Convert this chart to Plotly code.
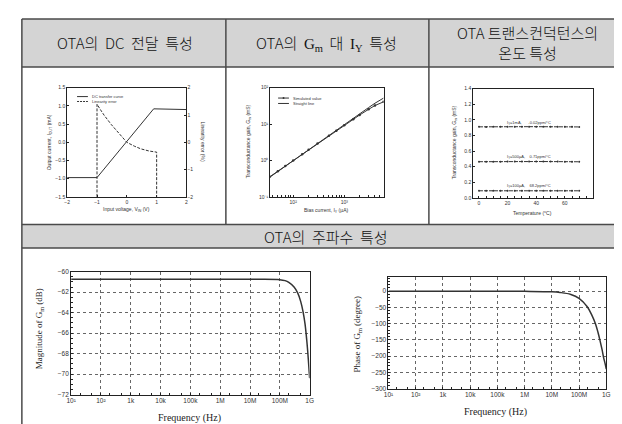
import plotly.graph_objects as go

W, H = 622, 424


def px(x):
    return x / W


def py(y):
    return 1 - y / H


# ---------------- data ----------------
# DC transfer characteristic
vin_transfer = [-2.0, -1.0, 0.9, 1.55, 1.6, 2.0]
iout_transfer = [-0.97, -0.97, 0.92, 0.92, 0.90, 0.90]
vin_error = [-1.0, -1.0, -0.9, -0.76, -0.52, -0.25, 0.0, 0.25, 0.47, 0.75, 0.91, 1.0, 1.0]
lin_error = [-2.0, 1.4, 1.22, 0.99, 0.65, 0.3, 0.0, -0.14, -0.24, -0.32, -0.36, -0.36, -2.0]

# Gm vs bias current
iy_bias = [35, 50, 70, 100, 150, 200, 300, 500, 700, 1000, 1500, 2000, 3000, 4000, 5900]
gm_sim = [0.36, 0.51, 0.71, 1.0, 1.49, 1.97, 2.93, 4.8, 6.6, 9.3, 13.6, 17.8, 25.5, 32.5, 41.0]
gm_line = [0.35, 0.5, 0.7, 1.0, 1.5, 2.0, 3.0, 5.0, 7.0, 9.9, 14.6, 19.3, 28.5, 37.5, 52.0]

# Gm vs temperature
temp_c = [0, 5, 10, 15, 20, 25, 30, 35, 40, 45, 50, 55, 60, 65, 70]
gm_1ma = [0.911, 0.910, 0.911, 0.911, 0.912, 0.912, 0.912, 0.913, 0.913, 0.912, 0.912, 0.912, 0.911, 0.911, 0.910]
gm_500ua = [0.464, 0.463, 0.464, 0.464, 0.465, 0.465, 0.466, 0.466, 0.466, 0.466, 0.465, 0.465, 0.464, 0.464, 0.463]
gm_100ua = [0.091, 0.091, 0.091, 0.091, 0.092, 0.092, 0.092, 0.092, 0.092, 0.092, 0.092, 0.092, 0.091, 0.091, 0.091]
temp_labels = ["I<sub>Y</sub>=1mA,      -0.02ppm/°C",
               "I<sub>Y</sub>=500µA,    0.71ppm/°C",
               "I<sub>Y</sub>=100µA,    68.2ppm/°C"]

# Frequency response
freq_mag = [1e1, 1e2, 1e3, 1e4, 1e5, 1e6, 1e7, 1e8, 1.5e8, 2e8, 3e8, 4e8, 5e8, 6e8, 7e8, 8e8, 9e8, 1e9]
mag_db = [-60.75, -60.75, -60.75, -60.75, -60.75, -60.75, -60.75, -60.78, -60.88, -61.05,
          -61.5, -62.1, -62.9, -63.9, -65.1, -66.7, -68.5, -70.4]
freq_phase = [1e1, 1e2, 1e3, 1e4, 1e5, 1e6, 1e7, 2e7, 5e7, 1e8, 2e8, 3e8, 4e8, 5e8, 6e8, 7e8, 8e8, 9e8, 1e9]
phase_deg = [0, 0, 0, 0, 0, -0.5, -2, -4, -10, -22, -48, -75, -100, -128, -155, -180, -205, -222, -240]

freq_tickvals = [1e1, 1e2, 1e3, 1e4, 1e5, 1e6, 1e7, 1e8, 1e9]
freq_ticktext = ["10¹", "10²", "1k", "10k", "100k", "1M", "10M", "100M", "1G"]

LINE = "#333333"
SANS = "Liberation Sans"
SERIF = "Liberation Serif"
KR = "Noto Sans CJK KR"

fig = go.Figure()

# chart 1
fig.add_trace(go.Scatter(x=vin_transfer, y=iout_transfer, mode="lines",
                         line=dict(color=LINE, width=1), xaxis="x", yaxis="y", showlegend=False))
fig.add_trace(go.Scatter(x=vin_error, y=lin_error, mode="lines",
                         line=dict(color=LINE, width=1, dash="3px,1.5px"), xaxis="x", yaxis="y6", showlegend=False))
# chart 2
fig.add_trace(go.Scatter(x=iy_bias, y=gm_sim, mode="lines+markers",
                         line=dict(color=LINE, width=1), marker=dict(size=2.5, color=LINE),
                         xaxis="x2", yaxis="y2", showlegend=False))
fig.add_trace(go.Scatter(x=iy_bias, y=gm_line, mode="lines",
                         line=dict(color=LINE, width=1), xaxis="x2", yaxis="y2", showlegend=False))
# chart 3
for series in (gm_1ma, gm_500ua, gm_100ua):
    fig.add_trace(go.Scatter(x=temp_c, y=series, mode="lines+markers",
                             line=dict(color=LINE, width=1, dash="4px,1px"), marker=dict(size=2, color=LINE),
                             xaxis="x3", yaxis="y3", showlegend=False))
# chart 4
fig.add_trace(go.Scatter(x=freq_mag, y=mag_db, mode="lines", line=dict(color=LINE, width=1.5, shape="spline"),
                         xaxis="x4", yaxis="y4", showlegend=False))
# chart 5
fig.add_trace(go.Scatter(x=freq_phase, y=phase_deg, mode="lines", line=dict(color=LINE, width=1.5, shape="spline"),
                         xaxis="x5", yaxis="y5", showlegend=False))

small_tick = dict(family=SANS, size=5, color="#333")
big_tick = dict(family=SANS, size=6.5, color="#333")
box = dict(showline=True, linecolor="#222", linewidth=1, mirror=True, ticks="inside",
           ticklen=2, tickcolor="#222", showgrid=False, zeroline=False)

layout = dict(
    width=W, height=H, margin=dict(l=0, r=0, t=0, b=0),
    paper_bgcolor="white", plot_bgcolor="white",
    xaxis=dict(**box, domain=[px(55), px(176)], range=[-2, 2], tickvals=[-2, -1, 0, 1, 2],
               tickfont=small_tick, anchor="y"),
    yaxis=dict(**box, domain=[py(188), py(77)], range=[-1.5, 1.5], dtick=0.5, tickformat=".1f",
               tickfont=small_tick, anchor="x"),
    yaxis6=dict(overlaying="y", side="right", anchor="x", range=[-2, 2], dtick=1, ticks="inside",
                ticklen=2, tickcolor="#222", showgrid=False, zeroline=False, showline=False,
                tickfont=small_tick),
    xaxis2=dict(**box, type="log", domain=[px(261), px(376)], range=[1.55, 3.77],
                tickvals=[100, 1000], ticktext=["10²", "10³"], tickfont=small_tick, anchor="y2",
                minor=dict(ticks="inside", ticklen=1.5, tickcolor="#222",
                           tickvals=[40, 50, 60, 70, 80, 90, 200, 300, 400, 500, 600, 700, 800, 900, 2000, 3000, 4000, 5000])),
    yaxis2=dict(**box, type="log", domain=[py(188), py(77)], range=[-1, 2],
                tickvals=[0.1, 1, 10, 100], ticktext=["10⁻¹", "10⁰", "10¹", "10²"],
                tickfont=small_tick, anchor="x2"),
    xaxis3=dict(**box, domain=[px(467), px(589)], range=[-4, 80], tickvals=[0, 20, 40, 60],
                tickfont=small_tick, anchor="y3",
                minor=dict(ticks="inside", ticklen=1.5, tickcolor="#222", dtick=5)),
    yaxis3=dict(**box, domain=[py(189), py(78)], range=[0, 1.4], dtick=0.2, tickformat=".1f",
                tickfont=small_tick, anchor="x3"),
    xaxis4=dict(**box, type="log", domain=[px(59), px(301)], range=[1, 9],
                tickvals=freq_tickvals, ticktext=freq_ticktext, tickfont=big_tick, anchor="y4",
                minor=dict(ticks="inside", ticklen=2, tickcolor="#222"),
                ),
    yaxis4=dict(**box, domain=[py(389), py(264)], range=[-72, -60], dtick=2,
                tickfont=big_tick, anchor="x4",
                minor=dict(ticks="inside", ticklen=1.5, tickcolor="#222", dtick=0.5)),
    xaxis5=dict(**box, type="log", domain=[px(381), px(602)], range=[1, 9],
                tickvals=freq_tickvals, ticktext=freq_ticktext, tickfont=big_tick, anchor="y5",
                minor=dict(ticks="inside", ticklen=2, tickcolor="#222")),
    yaxis5=dict(**box, domain=[py(383), py(269)], range=[-300, 45],
                tickvals=[0, -50, -100, -150, -200, -250, -300], tickfont=big_tick, anchor="x5",
                minor=dict(ticks="inside", ticklen=1.5, tickcolor="#222", dtick=10)),
)
for ax in ("xaxis4", "yaxis4", "xaxis5", "yaxis5"):
    layout[ax].update(showgrid=True, gridcolor="#666", gridwidth=1, griddash="dot")
fig.update_layout(**layout)

# ---------------- table ----------------
GRAY = "#d4d4d4"
BORDER = "#4a4a4a"
shapes = []
shapes.append(dict(type="rect", xref="paper", yref="paper", x0=px(9), x1=1, y0=py(56), y1=py(7),
                   fillcolor=GRAY, line=dict(width=0), layer="below"))
shapes.append(dict(type="rect", xref="paper", yref="paper", x0=px(9), x1=1, y0=py(240), y1=py(216),
                   fillcolor=GRAY, line=dict(width=0), layer="below"))
for yy in (7, 56, 216, 240):
    shapes.append(dict(type="line", xref="paper", yref="paper", x0=px(9), x1=1, y0=py(yy), y1=py(yy),
                       line=dict(color=BORDER, width=1.5)))
shapes.append(dict(type="line", xref="paper", yref="paper", x0=px(9), x1=px(9), y0=py(7), y1=0,
                   line=dict(color=BORDER, width=1.5)))
for xx in (216, 422):
    shapes.append(dict(type="line", xref="paper", yref="paper", x0=px(xx), x1=px(xx), y0=py(7), y1=py(216),
                       line=dict(color=BORDER, width=1.5)))

# legend samples (chart 1 and chart 2)
shapes.append(dict(type="line", xref="paper", yref="paper", x0=px(65), x1=px(76), y0=py(86), y1=py(86),
                   line=dict(color=LINE, width=1)))
shapes.append(dict(type="line", xref="paper", yref="paper", x0=px(65), x1=px(76), y0=py(91), y1=py(91),
                   line=dict(color=LINE, width=1, dash="2px,1px")))
shapes.append(dict(type="line", xref="paper", yref="paper", x0=px(269), x1=px(280), y0=py(87.5), y1=py(87.5),
                   line=dict(color=LINE, width=1)))
shapes.append(dict(type="circle", xref="paper", yref="paper", x0=px(273.5), x1=px(275.5), y0=py(88.5), y1=py(86.5),
                   fillcolor=LINE, line=dict(width=0)))
shapes.append(dict(type="line", xref="paper", yref="paper", x0=px(269), x1=px(280), y0=py(93), y1=py(93),
                   line=dict(color=LINE, width=1)))
fig.update_layout(shapes=shapes)

ann = []


def text(x, y, s, size=5, family=SANS, angle=0, xanchor="center", color="#333", weight=None):
    f = dict(family=family, size=size, color=color)
    if weight is not None:
        f["weight"] = weight
    ann.append(dict(x=px(x), y=py(y), xref="paper", yref="paper", text=s, showarrow=False,
                    textangle=angle, xanchor=xanchor, yanchor="middle", font=f))


NB = "\u00a0"
# headers
text(114, 31.5, f"OTA의{NB}{NB}DC{NB}{NB}전달{NB}{NB}특성", size=15, family=KR, color="#111", weight=300)
text(318, 31.5, f"OTA의{NB}{NB}<span style='font-family:Liberation Serif'>G<sub>m</sub></span>{NB}{NB}대{NB}{NB}"
                f"<span style='font-family:Liberation Serif'>I<sub>Y</sub></span>{NB}{NB}특성",
     size=15, family=KR, color="#111", weight=300)
text(522, 31.5, "OTA 트랜스컨덕턴스의<br>온도 특성", size=15, family=KR, color="#111", weight=300)
text(318, 228, f"OTA의{NB}{NB}주파수{NB}{NB}특성", size=15, family=KR, color="#111", weight=300)

# chart 1 labels
text(37, 132, "Output current, I<sub>OUT</sub> (mA)", angle=-90)
text(193, 132, "Linearity error (%)", angle=90)
text(115, 201, "Input voltage, V<sub>IN</sub> (V)")
text(78, 86, "DC transfer curve", size=4, xanchor="left")
text(78, 91, "Linearity error", size=4, xanchor="left")

# chart 2 labels
text(239, 132, "Transconductance gain, G<sub>m</sub> (mS)", angle=-90)
text(318, 202, "Bias current, I<sub>Y</sub> (µA)")
text(282, 87.5, "Simulated value", size=4, xanchor="left")
text(282, 93, "Straight line", size=4, xanchor="left")

# chart 3 labels
text(448, 133, "Transconductance gain, G<sub>m</sub> (mS)", angle=-90)
text(527, 204, "Temperature (°C)")
for lbl, series in zip(temp_labels, (gm_1ma, gm_500ua, gm_100ua)):
    ann.append(dict(x=35, y=series[0] + 0.055, xref="x3", yref="y3", text=lbl, showarrow=False,
                    font=dict(family=SANS, size=4, color="#333")))

# chart 4/5 labels
text(27, 322, "Magnitude of G<sub>m</sub> (dB)", size=9, family=SERIF, angle=-90, color="#222")
text(179, 413, "Frequency (Hz)", size=10, family=SERIF, color="#222")
text(350, 327, "Phase of G<sub>m</sub> (degree)", size=9, family=SERIF, angle=-90, color="#222")
text(490, 407, "Frequency (Hz)", size=10, family=SERIF, color="#222")

fig.update_layout(annotations=ann)
fig.write_html("out.html")
